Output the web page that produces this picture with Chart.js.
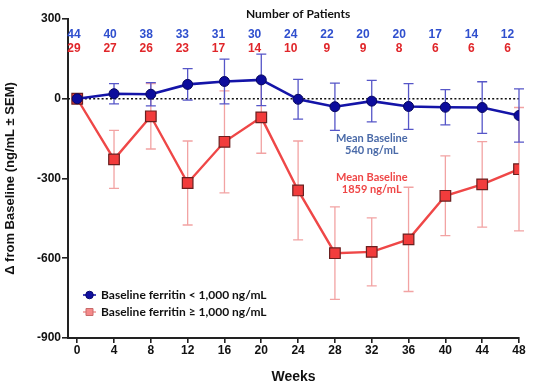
<!DOCTYPE html>
<html>
<head>
<meta charset="utf-8">
<script src="https://cdn.jsdelivr.net/npm/chart.js@4.4.1/dist/chart.umd.min.js"></script>
<style>
html,body{margin:0;padding:0;background:#fff;}
#wrap{width:541px;height:386px;position:relative;}
</style>
</head>
<body>
<div id="wrap"><canvas id="c" width="541" height="386"></canvas></div>
<script>
const weeks = [0,4,8,12,16,20,24,28,32,36,40,44,48];
const lowFerritin = [0,19,17,54,65,71,-2,-30,-9,-29,-32,-33,-63];
const lowFerritinSEM = [0,38,44,59,84,97,75,89,78,86,66,97,100];
const highFerritin = [0,-228,-66,-317,-162,-70,-345,-581,-576,-529,-365,-322,-265];
const highFerritinSEM = [0,109,123,158,192,135,186,174,128,196,150,161,232];
const lowCounts = [44,40,38,33,31,30,24,22,20,20,17,14,12];
const highCounts = [29,27,26,23,17,14,10,9,9,8,6,6,6];
const yTicks = [300,0,-300,-600,-900];
const seriesLabels = ['Baseline ferritin < 1,000 ng/mL','Baseline ferritin \u2265 1,000 ng/mL'];

const BLUE = '#1414a8', BLUE_ERR = '#5656c8', BLUE_TXT = '#2f4fce';
const RED = '#ef4747', RED_ERR = '#f2a3a3', RED_TXT = '#e0262a';
const NOTE_BLUE = '#4a6aa8';
const AX = '#222';
const LABEL_FONT = '"Liberation Sans", Arial, sans-serif';
const SOFT_FONT = 'Lato, "Open Sans", sans-serif';

const annotations = [
  {text:'Mean Baseline', x:32, y:-151, color:NOTE_BLUE},
  {text:'540 ng/mL', x:32, y:-196, color:NOTE_BLUE},
  {text:'Mean Baseline', x:32, y:-295, color:RED},
  {text:'1859 ng/mL', x:32, y:-340, color:RED}
];

const extras = {
  id:'extras',
  beforeDatasetsDraw(chart){
    const ctx = chart.ctx, xs = chart.scales.x, ys = chart.scales.y, ca = chart.chartArea;
    ctx.save();
    ctx.strokeStyle = '#111';
    ctx.lineWidth = 1.6;
    ctx.setLineDash([2,2.2]);
    ctx.beginPath();
    ctx.moveTo(ca.left, ys.getPixelForValue(0));
    ctx.lineTo(ca.right, ys.getPixelForValue(0));
    ctx.stroke();
    ctx.setLineDash([]);
    const drawErr = (vals, errs, color) => {
      ctx.strokeStyle = color;
      ctx.lineWidth = 1.3;
      weeks.forEach((w,i) => {
        if (!errs[i]) return;
        const x = xs.getPixelForValue(w);
        const yt = ys.getPixelForValue(vals[i] + errs[i]);
        const yb = ys.getPixelForValue(vals[i] - errs[i]);
        ctx.beginPath();
        ctx.moveTo(x, yt); ctx.lineTo(x, yb);
        ctx.moveTo(x-5, yt); ctx.lineTo(x+5, yt);
        ctx.moveTo(x-5, yb); ctx.lineTo(x+5, yb);
        ctx.stroke();
      });
    };
    drawErr(highFerritin, highFerritinSEM, RED_ERR);
    drawErr(lowFerritin, lowFerritinSEM, BLUE_ERR);
    ctx.restore();
  },
  afterDraw(chart){
    const ctx = chart.ctx, xs = chart.scales.x, ys = chart.scales.y, xc = chart.scales.xc;
    ctx.save();
    ctx.textAlign = 'center';
    ctx.textBaseline = 'middle';
    ctx.fillStyle = '#111';
    ctx.font = 'bold 12px ' + SOFT_FONT;
    ctx.fillText('Number of Patients', xs.getPixelForValue(24), 14);
    ctx.font = 'bold 12px ' + LABEL_FONT;
    weeks.forEach((w,i) => {
      const x = xc.getPixelForValue(w);
      ctx.fillStyle = BLUE_TXT;
      ctx.fillText(String(lowCounts[i]), x, 35);
      ctx.fillStyle = RED_TXT;
      ctx.fillText(String(highCounts[i]), x, 49);
    });
    ctx.font = 'bold 11px ' + SOFT_FONT;
    annotations.forEach(a => {
      ctx.fillStyle = a.color;
      ctx.fillText(a.text, xs.getPixelForValue(a.x), ys.getPixelForValue(a.y));
    });
    const items = [
      {label:seriesLabels[0], line:BLUE, fill:'#1010a0', stroke:'#08086a', shape:'circle', y:295},
      {label:seriesLabels[1], line:'#f29a9a', fill:'#f58a8a', stroke:'#c86a6a', shape:'rect', y:312}
    ];
    ctx.textAlign = 'left';
    ctx.font = 'bold 12px ' + SOFT_FONT;
    items.forEach(it => {
      ctx.strokeStyle = it.line;
      ctx.lineWidth = 1.6;
      ctx.beginPath(); ctx.moveTo(83, it.y); ctx.lineTo(96, it.y); ctx.stroke();
      ctx.fillStyle = it.fill; ctx.strokeStyle = it.stroke; ctx.lineWidth = 1;
      ctx.beginPath();
      if (it.shape === 'circle') ctx.arc(89.5, it.y, 3.8, 0, Math.PI*2);
      else ctx.rect(86, it.y-3.5, 7, 7);
      ctx.fill(); ctx.stroke();
      ctx.fillStyle = '#111';
      ctx.fillText(it.label, 101, it.y);
    });
    ctx.restore();
  }
};

new Chart(document.getElementById('c'), {
  type:'line',
  data:{
    datasets:[
      {label:seriesLabels[0], data:weeks.map((w,i)=>({x:w,y:lowFerritin[i]})),
       borderColor:BLUE, backgroundColor:'#0c0c9c', pointBorderColor:'#07075e',
       pointStyle:'circle', pointRadius:5, pointBorderWidth:1, borderWidth:2.6},
      {label:seriesLabels[1], data:weeks.map((w,i)=>({x:w,y:highFerritin[i]})),
       borderColor:RED, backgroundColor:'#f23c3c', pointBorderColor:'#6a2020',
       pointStyle:'rect', pointRadius:7.5, pointBorderWidth:1.2, borderWidth:2.4}
    ]
  },
  options:{
    responsive:false,
    animation:false,
    devicePixelRatio:1,
    layout:{padding:{top:19,right:22,left:0,bottom:0}},
    plugins:{legend:{display:false},tooltip:{enabled:false}},
    scales:{
      x:{type:'linear', min:-1, max:48,
        afterFit(s){ s.height = 48; },
        afterBuildTicks(s){ s.ticks = weeks.map(v=>({value:v})); },
        grid:{drawOnChartArea:false, drawTicks:true, tickLength:5, color:AX, lineWidth:1.6},
        border:{display:true, color:AX, width:2},
        ticks:{color:'#111', font:{family:LABEL_FONT, weight:'bold', size:12}, padding:0, maxRotation:0, autoSkip:false},
        title:{display:true, text:'Weeks', color:'#111', font:{family:LABEL_FONT, weight:'bold', size:14}, padding:{top:2,bottom:0}}
      },
      xc:{type:'linear', display:false, min:-0.66, max:49.27},
      y:{type:'linear', min:-900, max:300,
        afterFit(s){ s.width = 68; },
        afterBuildTicks(s){ s.ticks = yTicks.map(v=>({value:v})); },
        grid:{drawOnChartArea:false, drawTicks:true, tickLength:6, color:AX, lineWidth:1.6},
        border:{display:true, color:AX, width:2},
        ticks:{color:'#111', font:{family:LABEL_FONT, weight:'bold', size:12}, padding:1},
        title:{display:true, text:'\u0394 from Baseline (ng/mL \u00b1 SEM)', color:'#111', font:{family:LABEL_FONT, weight:'bold', size:13}, padding:{top:3,bottom:0}}
      }
    }
  },
  plugins:[extras]
});
</script>
</body>
</html>
